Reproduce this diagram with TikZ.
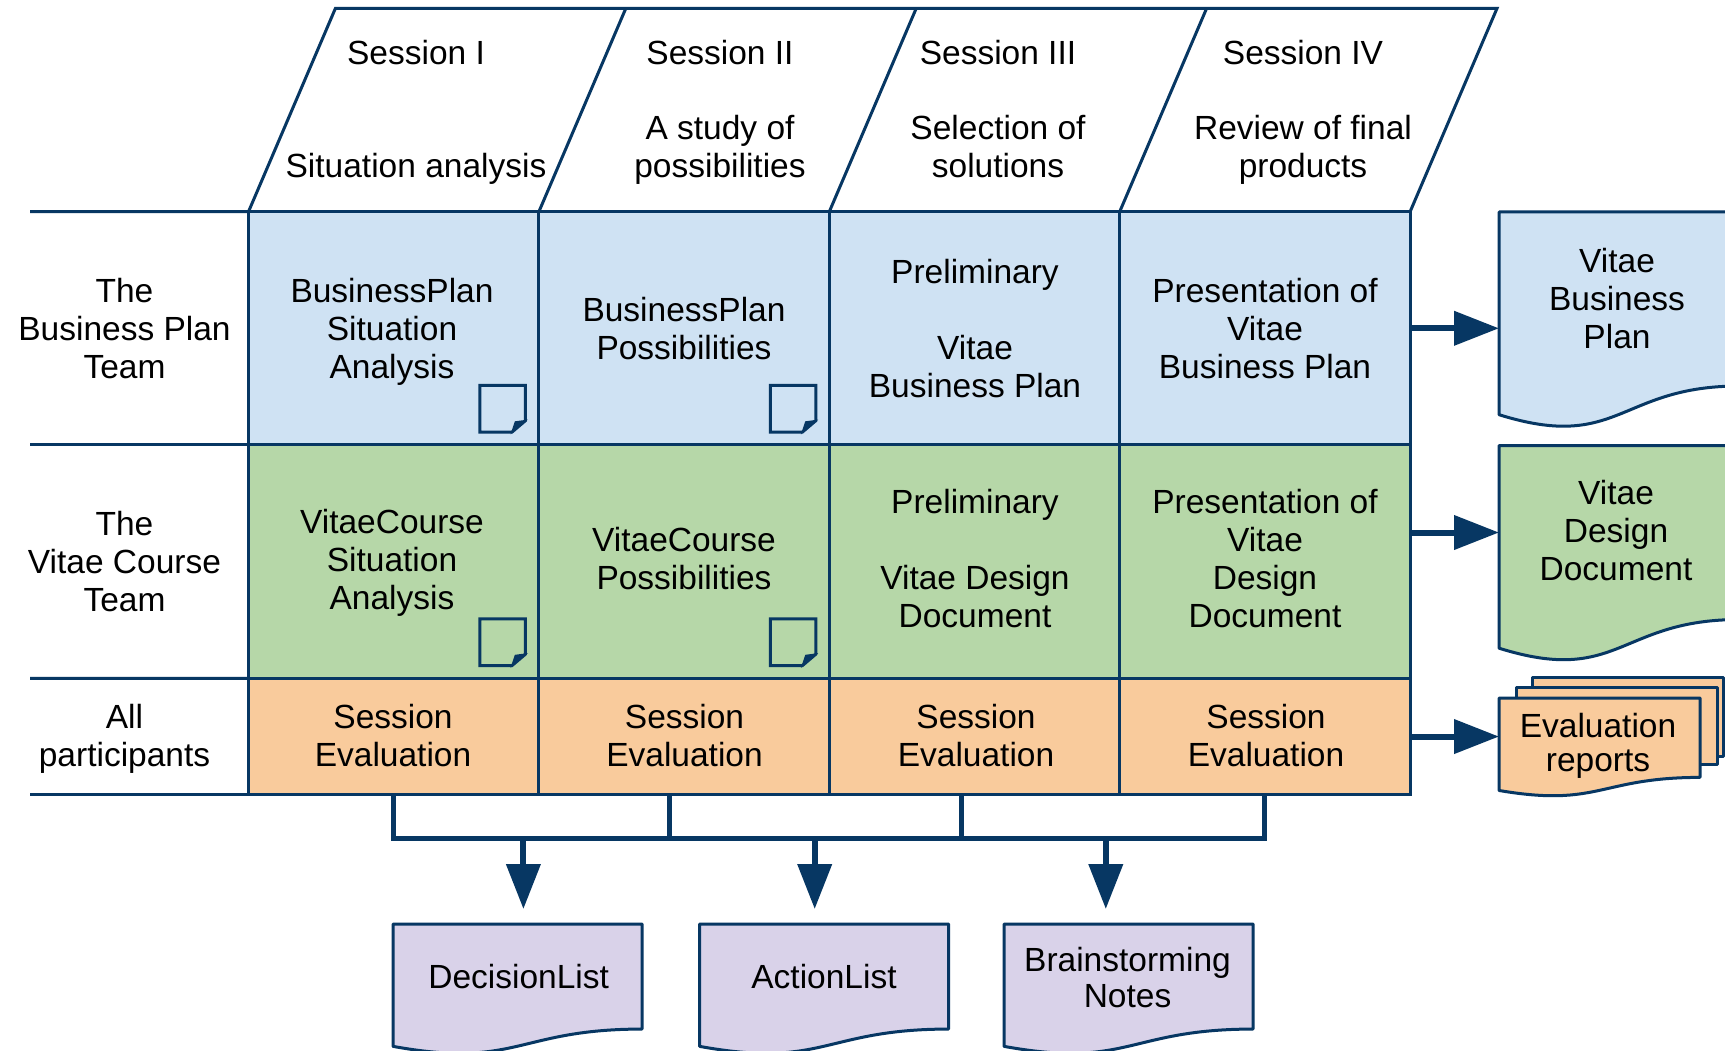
\documentclass[tikz,border=0pt]{standalone}
\usepackage{fontspec}
\setmainfont{Liberation Sans}
\usetikzlibrary{calc,arrows.meta}
\definecolor{navy}{HTML}{073763}
\definecolor{cblue}{HTML}{CFE2F3}
\definecolor{cgreen}{HTML}{B6D7A8}
\definecolor{corange}{HTML}{F9CB9C}
\definecolor{cpurple}{HTML}{D9D2E9}
\tikzset{
  gridline/.style={draw=navy, line width=3pt},
  cell/.style={draw=navy, line width=3pt, minimum width=290.4pt, inner sep=0pt, outer sep=0pt},
  txt/.style={font=\fontsize{33.5pt}{38pt}\selectfont, align=center, anchor=base, inner sep=0pt, text=black},
  hdr/.style={txt, font=\fontsize{33.5pt}{37.5pt}\selectfont},
  docline/.style={draw=navy, line width=3pt, line join=round},
  docarea/.style={inner sep=0pt, outer sep=0pt, draw=none},
  iconline/.style={draw=navy, line width=3pt, line join=miter},
  bus/.style={draw=navy, line width=5pt},
  flow/.style={draw=navy, line width=6pt, -{Triangle[length=45pt,width=33.4pt]}},
}
% name x y w h colour
\newcommand\docshape[6]{%
  \filldraw[docline, fill=#6] (#2,#3) -- ({#2+#4},#3) -- ({#2+#4},{#3+0.802*#5})
    .. controls ({#2+0.5*#4},{#3+0.802*#5}) and ({#2+0.5*#4},{#3+1.107*#5}) .. (#2,{#3+0.934*#5}) -- cycle;
  \node[docarea, anchor=north west, minimum width=#4pt, minimum height=#5*0.802pt] (#1) at (#2,#3) {};
}
\newcommand\noteicon[1]{%
  \begin{scope}[shift={($(#1.south east)+(-13.5,-12.9)$)}]
    \draw[iconline] (-45.5,0) -- (-45.5,-46.7) -- (0,-46.7) -- (0,-11.3) -- (-13.3,0) -- cycle;
    \filldraw[iconline, fill=navy, line width=1.5pt] (0,-11.3) -- (-10,-10) -- (-13.3,0) -- cycle;
  \end{scope}
}
\begin{document}
\begin{tikzpicture}[x=1pt, y=-1pt]
\useasboundingbox (0,0) rectangle (1725,1051);
\fill[white] (0,0) rectangle (1725,1051);
\clip (0,0) rectangle (1725,1051);

% grid cells
\node[cell, fill=cblue,   minimum height=233.2pt] (b1) at (393.7,328.3) {};
\node[cell, fill=cblue,   minimum height=233.2pt] (b2) at (684.1,328.3) {};
\node[cell, fill=cblue,   minimum height=233.2pt] (b3) at (974.5,328.3) {};
\node[cell, fill=cblue,   minimum height=233.2pt] (b4) at (1264.9,328.3) {};
\node[cell, fill=cgreen,  minimum height=233.5pt] (g1) at (393.7,561.65) {};
\node[cell, fill=cgreen,  minimum height=233.5pt] (g2) at (684.1,561.65) {};
\node[cell, fill=cgreen,  minimum height=233.5pt] (g3) at (974.5,561.65) {};
\node[cell, fill=cgreen,  minimum height=233.5pt] (g4) at (1264.9,561.65) {};
\node[cell, fill=corange, minimum height=116.3pt] (e1) at (393.7,736.55) {};
\node[cell, fill=corange, minimum height=116.3pt] (e2) at (684.1,736.55) {};
\node[cell, fill=corange, minimum height=116.3pt] (e3) at (974.5,736.55) {};
\node[cell, fill=corange, minimum height=116.3pt] (e4) at (1264.9,736.55) {};

% header parallelograms
\draw[gridline, line join=miter] (b1.north west) -- ++(86.9,-203.3) -- ($(b4.north east)+(86.9,-203.3)$) -- (b4.north east);
\draw[gridline] (b2.north west) -- ++(86.9,-203.3);
\draw[gridline] (b3.north west) -- ++(86.9,-203.3);
\draw[gridline] (b4.north west) -- ++(86.9,-203.3);

% left row lines
\draw[gridline] (30,211.7) -- (b1.north west);
\draw[gridline] (30,444.9) -- (g1.north west);
\draw[gridline] (30,678.4) -- (e1.north west);
\draw[gridline] (30,794.7) -- (e1.south west);

% note icons
\noteicon{b1}
\noteicon{b2}
\noteicon{g1}
\noteicon{g2}

% output documents
\docshape{vbp}{1499}{212}{240}{217}{cblue}
\docshape{vdd}{1499}{445.5}{240}{217}{cgreen}
\filldraw[docline, fill=corange] (1532,677) rectangle (1723,756.5);
\filldraw[docline, fill=corange] (1516,687.5) rectangle (1717,764);
\docshape{evr}{1499}{698}{201}{99}{corange}
\docshape{dl}{393}{924}{249}{131}{cpurple}
\docshape{al}{699.6}{924}{249}{131}{cpurple}
\docshape{bn}{1004}{924}{249}{131}{cpurple}

% connectors to the right
\draw[flow] (b4.east) -- (b4.east -| vbp.west);
\draw[flow] (g4.east |- vdd.west) -- (vdd.west);
\draw[flow] (e4.east) -- (e4.east -| evr.west);

% bus below evaluations
\coordinate (busy) at (0,838.7);
\draw[bus, line join=miter] (e1.south) -- (e1.south |- busy) -- (e4.south |- busy) -- (e4.south);
\draw[bus] ($(e2.south)+(-14.5,0)$) -- ($(e2.south |- busy)+(-14.5,0)$);
\draw[bus] ($(e3.south)+(-13.5,0)$) -- ($(e3.south |- busy)+(-13.5,0)$);
\coordinate (a1) at (523.4,838.7);
\coordinate (a2) at (814.7,838.7);
\coordinate (a3) at (1105.8,838.7);
\draw[flow] (a1) -- ($(a1 |- dl.north)+(0,-15)$);
\draw[flow] (a2) -- ($(a2 |- al.north)+(0,-15)$);
\draw[flow] (a3) -- ($(a3 |- bn.north)+(0,-15)$);

% header texts (anchor = baseline of the last line)
\node[hdr] (h1) at (416,177.5) {Session I\\[75pt]Situation analysis};
\node[hdr] (h2) at (720,177.5) {Session II\\[37.5pt]A study of\\possibilities};
\node[hdr] (h3) at (998,177.5) {Session III\\[37.5pt]Selection of\\solutions};
\node[hdr] (h4) at (1303,177.5) {Session IV\\[37.5pt]Review of final\\products};

% row labels
\node[txt] (l1) at (124.5,378) {The\\Business Plan\\Team};
\node[txt] (l2) at (124.5,611.5) {The\\Vitae Course\\Team};
\node[txt] (l3) at (124.5,766.6) {All\\participants};

% row 1
\node[txt] (tb1) at (392,378) {BusinessPlan\\Situation\\Analysis};
\node[txt] (tb2) at (684,359.6) {BusinessPlan\\Possibilities};
\node[txt] (tb3) at (975,397.6) {Preliminary\\[38pt]Vitae\\Business Plan};
\node[txt] (tb4) at (1265,378.4) {Presentation of\\Vitae\\Business Plan};
\node[txt] (tvbp) at (1617,348.3) {Vitae\\Business\\Plan};

% row 2
\node[txt] (tg1) at (392,609.5) {VitaeCourse\\Situation\\Analysis};
\node[txt] (tg2) at (684,589) {VitaeCourse\\Possibilities};
\node[txt] (tg3) at (975,627) {Preliminary\\[38pt]Vitae Design\\Document};
\node[txt] (tg4) at (1265,627) {Presentation of\\Vitae\\Design\\Document};
\node[txt] (tvdd) at (1616,580) {Vitae\\Design\\Document};

% row 3
\node[txt] (te1) at (393,766.6) {Session\\Evaluation};
\node[txt] (te2) at (684.5,766.6) {Session\\Evaluation};
\node[txt] (te3) at (976,766.6) {Session\\Evaluation};
\node[txt] (te4) at (1266,766.6) {Session\\Evaluation};
\node[txt, font=\fontsize{33.5pt}{34.5pt}\selectfont] (tevr) at (1598,771.7) {Evaluation\\reports};

% bottom documents
\node[txt] (tdl) at (518.7,988.3) {DecisionList};
\node[txt] (tal) at (824,988.3) {ActionList};
\node[txt, font=\fontsize{33.5pt}{36.5pt}\selectfont] (tbn) at (1127.5,1007.5) {Brainstorming\\Notes};
\end{tikzpicture}
\end{document}
